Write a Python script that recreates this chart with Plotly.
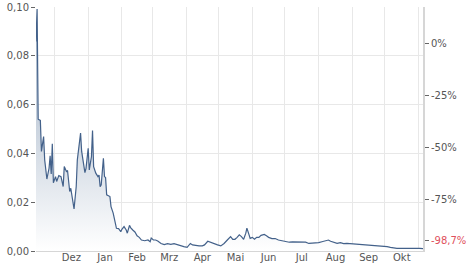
import plotly.graph_objects as go
import pandas as pd

# ---- data ----
dates = [
    "2022-11-14", "2022-11-15", "2022-11-16", "2022-11-18", "2022-11-19", "2022-11-21",
    "2022-11-22", "2022-11-24", "2022-11-26", "2022-11-27", "2022-11-28", "2022-11-29",
    "2022-11-30", "2022-12-02", "2022-12-03", "2022-12-05", "2022-12-07", "2022-12-09",
    "2022-12-10", "2022-12-12", "2022-12-13", "2022-12-15", "2022-12-16", "2022-12-18",
    "2022-12-19", "2022-12-21", "2022-12-22", "2022-12-25", "2022-12-26", "2022-12-29",
    "2022-12-30", "2023-01-01", "2023-01-02", "2023-01-04", "2023-01-05", "2023-01-06",
    "2023-01-08", "2023-01-10", "2023-01-11", "2023-01-12", "2023-01-13", "2023-01-15",
    "2023-01-16", "2023-01-17", "2023-01-18", "2023-01-21", "2023-01-22", "2023-01-24",
    "2023-01-26", "2023-01-27", "2023-01-29", "2023-01-31", "2023-02-01", "2023-02-03",
    "2023-02-05", "2023-02-06", "2023-02-08", "2023-02-09", "2023-02-11", "2023-02-13",
    "2023-02-15", "2023-02-17", "2023-02-19", "2023-02-22", "2023-02-25", "2023-02-27",
    "2023-02-28", "2023-03-02", "2023-03-04", "2023-03-06", "2023-03-09", "2023-03-12",
    "2023-03-15", "2023-03-18", "2023-03-21", "2023-03-24", "2023-03-27", "2023-03-30",
    "2023-04-02", "2023-04-05", "2023-04-07", "2023-04-10", "2023-04-13", "2023-04-16",
    "2023-04-18", "2023-04-21", "2023-04-24", "2023-04-27", "2023-04-30", "2023-05-03",
    "2023-05-06", "2023-05-09", "2023-05-12", "2023-05-14", "2023-05-16", "2023-05-18",
    "2023-05-20", "2023-05-22", "2023-05-24", "2023-05-26", "2023-05-27", "2023-05-29",
    "2023-05-30", "2023-06-01", "2023-06-03", "2023-06-05", "2023-06-07", "2023-06-09",
    "2023-06-12", "2023-06-14", "2023-06-16", "2023-06-19", "2023-06-22", "2023-06-25",
    "2023-06-29", "2023-07-02", "2023-07-05", "2023-07-08", "2023-07-11", "2023-07-14",
    "2023-07-17", "2023-07-20", "2023-07-23", "2023-07-26", "2023-07-29", "2023-08-01",
    "2023-08-04", "2023-08-07", "2023-08-10", "2023-08-12", "2023-08-15", "2023-08-18",
    "2023-08-21", "2023-08-24", "2023-08-27", "2023-08-30", "2023-09-02", "2023-09-05",
    "2023-09-08", "2023-09-11", "2023-09-14", "2023-09-18", "2023-09-21", "2023-09-24",
    "2023-09-27", "2023-09-30", "2023-10-03", "2023-10-06", "2023-10-09", "2023-10-12",
    "2023-10-15", "2023-10-18", "2023-10-21", "2023-10-24", "2023-10-27", "2023-10-30",
    "2023-11-02", "2023-11-05",
]
prices = [
    0.0859, 0.0992, 0.0540, 0.0535, 0.0408, 0.0469,
    0.0373, 0.0295, 0.0339, 0.0390, 0.0316, 0.0439,
    0.0280, 0.0305, 0.0285, 0.0309, 0.0305, 0.0264,
    0.0346, 0.0326, 0.0330, 0.0244, 0.0257, 0.0209,
    0.0172, 0.0264, 0.0373, 0.0483, 0.0408, 0.0321,
    0.0339, 0.0421, 0.0332, 0.0387, 0.0494, 0.0346,
    0.0319, 0.0305, 0.0311, 0.0264, 0.0271, 0.0380,
    0.0305, 0.0301, 0.0230, 0.0223, 0.0182, 0.0155,
    0.0114, 0.0093, 0.0092, 0.0079, 0.0089, 0.0100,
    0.0086, 0.0073, 0.0105, 0.0096, 0.0086, 0.0078,
    0.0062, 0.0056, 0.0045, 0.0042, 0.0045, 0.0038,
    0.0053, 0.0045, 0.0045, 0.0041, 0.0031, 0.0026,
    0.0030, 0.0027, 0.0030, 0.0025, 0.0022, 0.0018,
    0.0015, 0.0031, 0.0025, 0.0022, 0.0021, 0.0021,
    0.0025, 0.0040, 0.0034, 0.0029, 0.0025, 0.0021,
    0.0031, 0.0045, 0.0059, 0.0048, 0.0048, 0.0056,
    0.0066, 0.0059, 0.0048, 0.0073, 0.0094, 0.0066,
    0.0052, 0.0056, 0.0048, 0.0056, 0.0056, 0.0064,
    0.0068, 0.0062, 0.0056, 0.0051, 0.0051, 0.0045,
    0.0041, 0.0037, 0.0036, 0.0037, 0.0036, 0.0037,
    0.0034, 0.0036, 0.0031, 0.0031, 0.0031, 0.0034,
    0.0038, 0.0042, 0.0045, 0.0040, 0.0034, 0.0031,
    0.0034, 0.0030, 0.0031, 0.0030, 0.0029, 0.0030,
    0.0029, 0.0027, 0.0026, 0.0023, 0.0022, 0.0022,
    0.0022, 0.0021, 0.0018, 0.0015, 0.0012, 0.0011,
    0.0011, 0.0011, 0.0011, 0.0012, 0.0014, 0.0012,
    0.0011, 0.0010,
]
month_labels = ["Dez", "Jan", "Feb", "Mrz", "Apr", "Mai", "Jun", "Jul", "Aug", "Sep", "Okt"]
month_starts = pd.date_range("2022-12-01", "2023-11-01", freq="MS")
y_ticks = [0.0, 0.02, 0.04, 0.06, 0.08, 0.10]
y_ticktext = ["0,00", "0,02", "0,04", "0,06", "0,08", "0,10"]
ref_price = 0.085           # price level corresponding to 0 %
pct_ticks = [0, -25, -50, -75]
last_change_text = "-98,7%"
last_label_level = 0.0045   # where the final-change label sits on the right axis

# ---- derived ----
mid_months = [s + (s + pd.offsets.MonthBegin(1) - s) / 2 for s in month_starts[:-1]]
pct_vals = [ref_price * (1 + p / 100) for p in pct_ticks] + [last_label_level]
pct_text = [f"{p}%" for p in pct_ticks] + [f"<span style='color:#e0505c'>{last_change_text}</span>"]

font = dict(family="DejaVu Sans", size=10, color="#555555")
grid = "#e8e8e8"

fig = go.Figure()
fig.add_trace(go.Scatter(
    x=dates, y=prices, mode="lines",
    line=dict(color="#43618a", width=1.2),
    fill="tozeroy",
    fillgradient=dict(type="vertical", start=0, stop=0.1,
                      colorscale=[[0, "#ffffff"], [1, "#97a9bf"]]),
    hoverinfo="skip", showlegend=False,
))
fig.add_trace(go.Scatter(
    x=dates, y=prices, mode="lines", yaxis="y2",
    line=dict(color="rgba(0,0,0,0)", width=0),
    hoverinfo="skip", showlegend=False,
))

fig.update_layout(
    width=474, height=269,
    margin=dict(l=36, r=51, t=7, b=18, autoexpand=False),
    paper_bgcolor="white", plot_bgcolor="white",
    font=font,
    xaxis=dict(
        type="date", range=[dates[0], dates[-1]],
        tickvals=mid_months, ticktext=month_labels,
        showgrid=False, ticks="", tickfont=font,
        showline=True, linecolor="#d6d6d6", linewidth=1,
        minor=dict(tickvals=list(month_starts), showgrid=True, gridcolor=grid, gridwidth=1, ticks=""),
        zeroline=False, automargin=False, ticklabelstandoff=-3,
    ),
    yaxis=dict(
        range=[0, 0.1], tickvals=y_ticks, ticktext=y_ticktext,
        showgrid=True, gridcolor=grid, gridwidth=1,
        ticks="outside", ticklen=4, tickcolor="#666666", tickwidth=1,
        showline=False, zeroline=False, tickfont=font, automargin=False,
    ),
    yaxis2=dict(
        overlaying="y", side="right", range=[0, 0.1],
        tickvals=pct_vals, ticktext=pct_text,
        showgrid=False, zeroline=False,
        ticks="outside", ticklen=4, tickcolor="#666666", tickwidth=1,
        showline=True, linecolor="#d6d6d6", linewidth=2, tickfont=font, automargin=False,
    ),
)

fig.write_html("out.html")
